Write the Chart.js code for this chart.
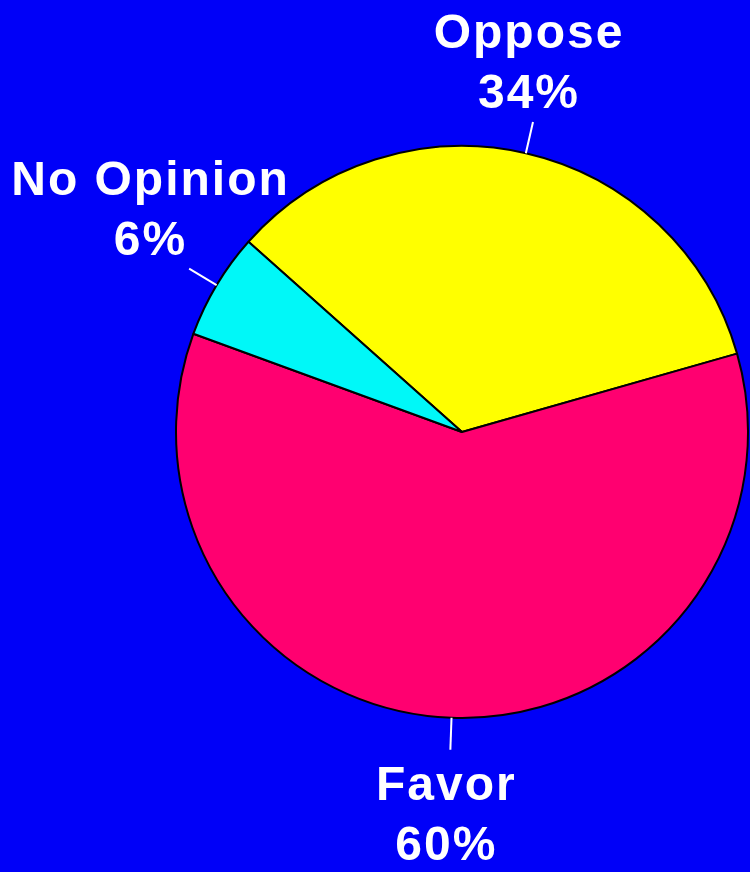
<!DOCTYPE html>
<html>
<head>
<meta charset="utf-8">
<script src="https://cdn.jsdelivr.net/npm/chart.js@4.4.1/dist/chart.umd.min.js"></script>
<style>
  html, body { margin: 0; padding: 0; background: #0000f8; overflow: hidden; }
  canvas { display: block; }
</style>
</head>
<body>
<canvas id="pieChart" width="750" height="872"></canvas>
<script>
// datos del grafico
const categorias = ['Oppose', 'Favor', 'No Opinion'];
const porcentajes = [34, 60, 6];
const etiquetasPct = ['34%', '60%', '6%'];
const colores = ['#ffff00', '#ff0070', '#00f8f8'];

// etiquetas con linea guia fuera del pastel
const etiquetasFuera = {
  id: 'etiquetasFuera',
  afterDatasetsDraw(chart) {
    const ctx = chart.ctx;
    const arcs = chart.getDatasetMeta(0).data;
    ctx.save();
    arcs.forEach((arc, i) => {
      const p = arc.getProps(['x', 'y', 'startAngle', 'endAngle', 'outerRadius'], true);
      const mid = (p.startAngle + p.endAngle) / 2;
      const ux = Math.cos(mid), uy = Math.sin(mid);
      const r = p.outerRadius;
      const ini = { x: p.x + ux * r, y: p.y + uy * r };
      const fin = { x: p.x + ux * (r + 32), y: p.y + uy * (r + 32) };

      ctx.strokeStyle = '#ffffff';
      ctx.lineWidth = 2;
      ctx.beginPath();
      ctx.moveTo(ini.x, ini.y);
      ctx.lineTo(fin.x, fin.y);
      ctx.stroke();

      const cx = fin.x + (Math.abs(ux) > 0.5 ? ux * 45 : -4);
      const cy = fin.y + Math.sign(uy) * 62;
      ctx.fillStyle = '#ffffff';
      ctx.font = 'bold 48px "Liberation Sans", Arial, sans-serif';
      ctx.letterSpacing = '2px';
      ctx.textAlign = 'center';
      ctx.textBaseline = 'alphabetic';
      ctx.fillText(categorias[i], cx, cy - 12);
      ctx.fillText(etiquetasPct[i], cx, cy + 48);
    });
    ctx.restore();
  }
};

const ctx = document.getElementById('pieChart').getContext('2d');
const myChart = new Chart(ctx, {
  type: 'pie',
  data: {
    labels: categorias,
    datasets: [{
      data: porcentajes,
      backgroundColor: colores,
      borderColor: '#000000',
      borderWidth: 2
    }]
  },
  options: {
    responsive: false,
    animation: false,
    rotation: -48.3,
    layout: { padding: { left: 175, right: 1, top: 145, bottom: 153 } },
    plugins: {
      legend: { display: false },
      tooltip: { enabled: false }
    }
  },
  plugins: [etiquetasFuera]
});
</script>
</body>
</html>
